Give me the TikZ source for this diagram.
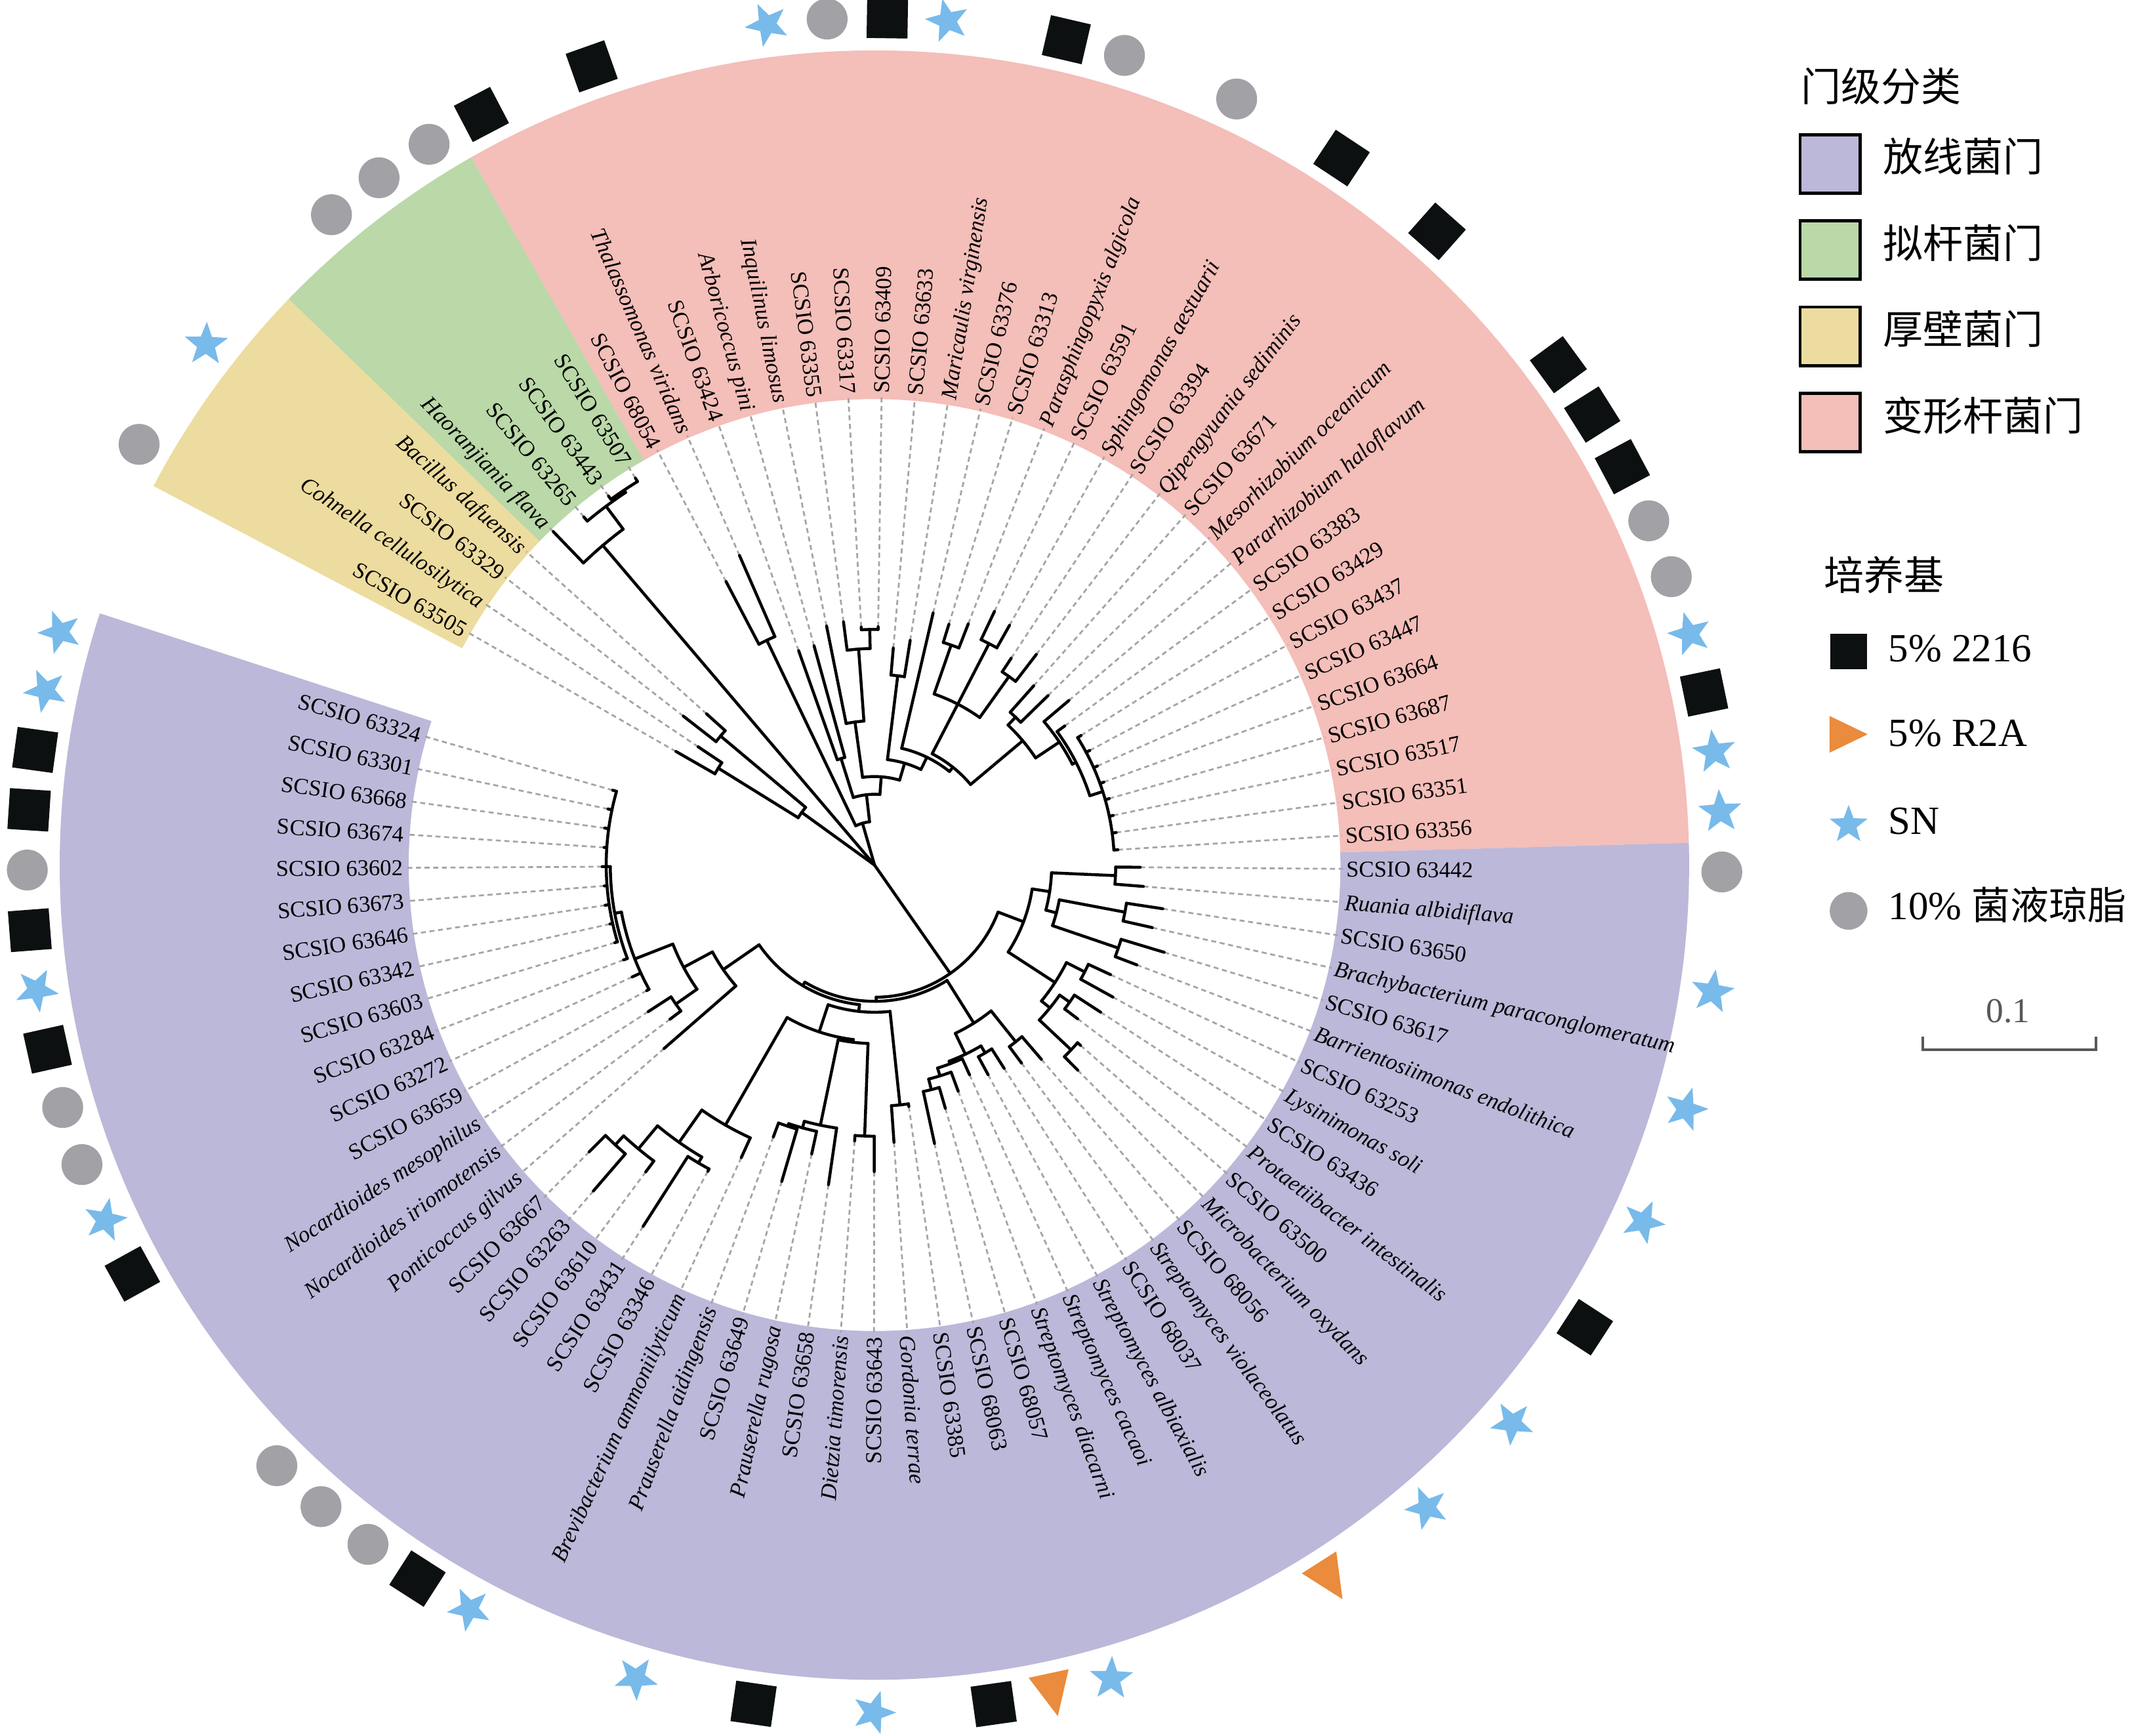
\documentclass[tikz,border=0pt]{standalone}
\usepackage{fontspec}
\setmainfont{Liberation Serif}
\newfontfamily\cjk{Noto Sans CJK SC}
\usetikzlibrary{shapes.geometric}
\definecolor{actino}{HTML}{BCB8D9}
\definecolor{bacter}{HTML}{BAD8A8}
\definecolor{firmi}{HTML}{EDDC9F}
\definecolor{proteo}{HTML}{F4BEB9}
\definecolor{sblue}{HTML}{78BAEA}
\definecolor{tor}{HTML}{EA8B3D}
\definecolor{cgray}{HTML}{A1A1A6}
\definecolor{sqblack}{HTML}{0C1010}
\definecolor{dashgray}{HTML}{A5A5A8}
\definecolor{bargray}{HTML}{58585A}
\tikzset{
  branch/.style={line width=1.3pt, black, line cap=round},
  dashline/.style={line width=0.8pt, dashgray, dash pattern=on 2.2pt off 1.6pt},
  lab/.style={font=\fontsize{10}{12}\selectfont, inner sep=0pt, text height=0.68em, text depth=0pt},
  sqsym/.style={fill=sqblack, minimum size=18pt, inner sep=0pt, draw=none},
  starsym/.style={star, star points=5, star point ratio=2.4, fill=sblue, minimum size=20pt, inner sep=0pt, draw=none},
  legtext/.style={font=\fontsize{17.6}{20}\selectfont, inner sep=0pt, anchor=west, text height=0.7em, text depth=0pt},
}
% tip: name, index, radius, label
\newcommand\Tip[4]{%
  \pgfmathsetmacro\tipa{150.23-4.0728*#2}%
  \expandafter\xdef\csname A@#1\endcsname{\tipa}%
  \expandafter\xdef\csname R@#1\endcsname{#3}%
  \ifdim #3pt<342pt \draw[dashline] (\tipa:#3) -- (\tipa:344);\fi
  \pgfmathtruncatemacro\isleft{(\tipa<-90 || \tipa>90) ? 1 : 0}%
  \ifnum\isleft=1
    \node[lab, rotate=\tipa+180, anchor=east] at (\tipa:346) {#4};%
  \else
    \node[lab, rotate=\tipa, anchor=west] at (\tipa:346) {#4};%
  \fi}
% clade: name, radius, children
\newcommand\Clade[3]{%
  \gdef\cmin{1000}\gdef\cmax{-1000}\gdef\csum{0}\gdef\ccnt{0}%
  \foreach \cc in {#3}{%
    \edef\cang{\csname A@\cc\endcsname}%
    \edef\crad{\csname R@\cc\endcsname}%
    \draw[branch] (\cang:#2) -- (\cang:\crad);
    \pgfmathsetmacro\tv{min(\cmin,\cang)}\xdef\cmin{\tv}%
    \pgfmathsetmacro\tv{max(\cmax,\cang)}\xdef\cmax{\tv}%
    \pgfmathsetmacro\tv{\csum+\cang}\xdef\csum{\tv}%
    \pgfmathsetmacro\tv{\ccnt+1}\xdef\ccnt{\tv}%
  }%
  \pgfmathsetmacro\tv{\csum/\ccnt}%
  \expandafter\xdef\csname A@#1\endcsname{\tv}%
  \expandafter\xdef\csname R@#1\endcsname{#2}%
  \draw[branch] (\cmin:#2) arc[start angle=\cmin, end angle=\cmax, radius=#2*0.6pt];
}
\newcommand\Sector[3]{%
  \fill[#1] (#2:342) arc[start angle=#2, end angle=#3, radius=342*0.6pt] -- (#3:598)
    arc[start angle=#3, end angle=#2, radius=598*0.6pt] -- cycle;}
\newcommand\SymSq[1]{\pgfmathsetmacro\sa{150.23-4.0728*#1}\node[sqsym, rotate=\sa] at (\sa:622) {};}
\newcommand\SymCi[1]{\pgfmathsetmacro\sa{150.23-4.0728*#1}\fill[cgray] (\sa:622) circle[radius=9pt];}
\newcommand\SymSt[1]{\pgfmathsetmacro\sa{150.23-4.0728*#1}\node[starsym, rotate=\sa] at (\sa:622) {};}
\newcommand\SymTr[1]{\pgfmathsetmacro\sa{150.23-4.0728*#1}\fill[tor, shift={(\sa:622)}, rotate=\sa] (17,0) -- (-15,15) -- (-15,-15) -- cycle;}

\begin{document}
\begin{tikzpicture}[x=0.6pt,y=0.6pt]
\useasboundingbox (0,0) rectangle (1568,1274);
\fill[white] (0,0) rectangle (1568,1274);
\begin{scope}[shift={(642,639)}]
% sectors
\Sector{firmi}{152.27}{135.98}
\Sector{bacter}{135.98}{119.68}
\Sector{proteo}{119.68}{1.57}
\Sector{actino}{1.57}{-198.0}
% Firmicutes
\Tip{t0}{0}{168}{SCSIO 63505}
\Tip{t1}{1}{156}{\textit{Cohnella cellulosilytica}}
\Tip{t2}{2}{178}{SCSIO 63329}
\Tip{t3}{3}{166}{\textit{Bacillus dafuensis}}
\Clade{F2}{135}{t0,t1}
\Clade{F1}{147.5}{t2,t3}
\Clade{F0}{66}{F1,F2}
% Bacteroidetes
\Tip{t4}{4}{340}{\textit{Haoranjiania flava}}
\Tip{t5}{5}{333}{SCSIO 63265}
\Tip{t6}{6}{334}{SCSIO 63443}
\Tip{t7}{7}{334}{SCSIO 63507}
\Clade{B2}{331}{t6,t7}
\Clade{B1}{329}{t5,B2}
\Clade{B0}{308}{t4,B1}
% Proteobacteria
\Tip{t8}{8}{235}{SCSIO 68054}
\Tip{t9}{9}{248}{\textit{Thalassomonas viridans}}
\Tip{t10}{10}{167}{SCSIO 63424}
\Tip{t11}{11}{167}{\textit{Arboricoccus pini}}
\Tip{t12}{12}{179}{\textit{Inquilinus limosus}}
\Tip{t13}{13}{180}{SCSIO 63355}
\Tip{t14}{14}{175}{SCSIO 63317}
\Tip{t15}{15}{175}{SCSIO 63409}
\Tip{t16}{16}{160}{SCSIO 63633}
\Tip{t17}{17}{167}{\textit{Maricaulis virginensis}}
\Tip{t18}{18}{190}{SCSIO 63376}
\Tip{t19}{19}{185}{SCSIO 63313}
\Tip{t20}{20}{190}{\textit{Parasphingopyxis algicola}}
\Tip{t21}{21}{206}{SCSIO 63591}
\Tip{t22}{22}{202}{\textit{Sphingomonas aestuarii}}
\Tip{t23}{23}{182}{SCSIO 63394}
\Tip{t24}{24}{195}{\textit{Qipengyuania sediminis}}
\Tip{t25}{25}{176}{SCSIO 63671}
\Tip{t26}{26}{178}{\textit{Mesorhizobium oceanicum}}
\Tip{t27}{27}{187}{\textit{Pararhizobium haloflavum}}
\Tip{t28}{28}{173}{SCSIO 63383}
\Tip{t29}{29}{179}{SCSIO 63429}
\Tip{t30}{30}{179}{SCSIO 63437}
\Tip{t31}{31}{179}{SCSIO 63447}
\Tip{t32}{32}{179}{SCSIO 63664}
\Tip{t33}{33}{179}{SCSIO 63687}
\Tip{t34}{34}{179}{SCSIO 63517}
\Tip{t35}{35}{179}{SCSIO 63351}
\Tip{t36}{36}{179}{SCSIO 63356}
\Clade{P1}{183}{t8,t9}
\Clade{Q1}{82}{t10,t11}
\Clade{Q2}{173}{t14,t15}
\Clade{Q3}{159}{t13,Q2}
\Clade{Q4}{106}{t12,Q3}
\Clade{Q5}{140}{t16,t17}
\Clade{Q6}{171}{t19,t20}
\Clade{Q7}{183}{t21,t22}
\Clade{Q8}{170}{t23,t24}
\Clade{Q9}{133}{Q6,Q7,Q8}
\Clade{Q10}{150}{t25,t26}
\Clade{Q11}{176}{t29,t30,t31,t32,t33,t34,t35,t36}
\Clade{Q12}{166}{t28,Q11}
\Clade{Q13}{163}{t27,Q12}
\Clade{Q14}{142}{Q10,Q13}
\Clade{Q15}{92}{Q9,Q14}
\Clade{Q17}{88}{t18,Q15}
\Clade{Q18}{78}{Q5,Q17}
\Clade{P5}{65}{Q4,Q18}
\Clade{P4}{52}{Q1,P5}
\Clade{P2}{32}{P1,P4}
% Actinobacteria
\Tip{t37}{37}{195}{SCSIO 63442}
\Tip{t38}{38}{198}{\textit{Ruania albidiflava}}
\Tip{t39}{39}{214}{SCSIO 63650}
\Tip{t40}{40}{209}{\textit{Brachybacterium paraconglomeratum}}
\Tip{t41}{41}{222}{SCSIO 63617}
\Tip{t42}{42}{206}{\textit{Barrientosiimonas endolithica}}
\Tip{t43}{43}{191}{SCSIO 63253}
\Tip{t44}{44}{200}{\textit{Lysinimonas soli}}
\Tip{t45}{45}{198}{SCSIO 63436}
\Tip{t46}{46}{187}{\textit{Protaetiibacter intestinalis}}
\Tip{t47}{47}{201}{SCSIO 63500}
\Tip{t48}{48}{212}{\textit{Microbacterium oxydans}}
\Tip{t49}{49}{188}{SCSIO 68056}
\Tip{t50}{50}{181}{\textit{Streptomyces violaceolatus}}
\Tip{t51}{51}{177}{SCSIO 68037}
\Tip{t52}{52}{175}{\textit{Streptomyces albiaxialis}}
\Tip{t53}{53}{169}{\textit{Streptomyces cacaoi}}
\Tip{t54}{54}{177}{\textit{Streptomyces diacarni}}
\Tip{t55}{55}{186}{SCSIO 68057}
\Tip{t56}{56}{209}{SCSIO 68063}
\Tip{t57}{57}{179}{SCSIO 63385}
\Tip{t58}{58}{204}{\textit{Gordonia terrae}}
\Tip{t59}{59}{225}{SCSIO 63643}
\Tip{t60}{60}{203}{\textit{Dietzia timorensis}}
\Tip{t61}{61}{237}{SCSIO 63658}
\Tip{t62}{62}{217}{\textit{Prauserella rugosa}}
\Tip{t63}{63}{242}{SCSIO 63649}
\Tip{t64}{64}{213}{\textit{Prauserella aidingensis}}
\Tip{t65}{65}{236}{\textit{Brevibacterium ammoniilyticum}}
\Tip{t66}{66}{256}{SCSIO 63346}
\Tip{t67}{67}{315}{SCSIO 63431}
\Tip{t68}{68}{281}{SCSIO 63610}
\Tip{t69}{69}{316}{SCSIO 63263}
\Tip{t70}{70}{297}{SCSIO 63667}
\Tip{t71}{71}{205}{\textit{Ponticoccus gilvus}}
\Tip{t72}{72}{188}{\textit{Nocardioides iriomotensis}}
\Tip{t73}{73}{198}{\textit{Nocardioides mesophilus}}
\Tip{t74}{74}{191}{SCSIO 63659}
\Tip{t75}{75}{196}{SCSIO 63272}
\Tip{t76}{76}{197}{SCSIO 63284}
\Tip{t77}{77}{199}{SCSIO 63603}
\Tip{t78}{78}{199}{SCSIO 63342}
\Tip{t79}{79}{200}{SCSIO 63646}
\Tip{t80}{80}{199}{SCSIO 63673}
\Tip{t81}{81}{200}{SCSIO 63602}
\Tip{t82}{82}{199}{SCSIO 63674}
\Tip{t83}{83}{200}{SCSIO 63668}
\Tip{t84}{84}{200}{SCSIO 63301}
\Tip{t85}{85}{200}{SCSIO 63324}
\Clade{R1}{177}{t37,t38}
\Clade{R2}{187}{t39,t40}
\Clade{R3}{189}{t41,t42}
\Clade{R4}{138}{R2,R3}
\Clade{R5}{130}{R1,R4}
\Clade{R6}{173}{t43,t44}
\Clade{R7}{175}{t45,t46}
\Clade{R8}{198}{t47,t48}
\Clade{R9}{166}{R7,R8}
\Clade{R10}{158}{R6,R9}
\Clade{R11}{117}{R5,R10}
\Clade{S1}{166}{t49,t50}
\Clade{S2}{160}{t51,t52}
\Clade{S3}{170}{t55,t56}
\Clade{S4}{162}{t54,S3}
\Clade{S5}{156}{t53,S4}
\Clade{S6}{154}{S2,S5}
\Clade{S7}{137}{S1,S6}
\Clade{G1}{177}{t57,t58}
\Clade{G2}{199}{t59,t60}
\Clade{G3}{202}{t63,t64}
\Clade{G4}{200}{t62,G3}
\Clade{G5}{195}{t61,G4}
\Clade{G6}{131}{G2,G5}
\Clade{G7}{254}{t66,t67}
\Clade{G8}{280}{t69,t70}
\Clade{G9}{271}{t68,G8}
\Clade{G10}{249}{G7,G9}
\Clade{G11}{220}{t65,G10}
\Clade{G12}{129}{G6,G11}
\Clade{G13}{108}{G1,G12}
\Clade{N1}{178}{t72,t73}
\Clade{L3}{197}{t77,t78,t79,t80,t81,t82,t83,t84,t85}
\Clade{L2}{194}{t76,L3}
\Clade{L1}{189}{t74,t75,L2}
\Clade{N2}{159}{N1,L1}
\Clade{N3}{135}{t71,N2}
\Clade{Al1}{103}{G13,N3}
\Clade{Al2}{100}{Al1,S7}
\Clade{Aroot}{97}{Al2,R11}
% root stems
\foreach \cc in {F0,B0,P2,Aroot}{%
  \edef\cang{\csname A@\cc\endcsname}\edef\crad{\csname R@\cc\endcsname}%
  \draw[branch] (0,0) -- (\cang:\crad);}
% outer symbols
\foreach \m in {0,5,6,7,14,19,21,31,32,37,68,69,70,76,77,81}{\SymCi{\m}}
\foreach \m in {2,13,16,33,35,36,39,41,43,47,49,55,59,63,66,75,79,84,85}{\SymSt{\m}}
\foreach \m in {8,10,15,18,23,25,28,29,30,34,45,57,61,67,74,78,80,82,83}{\SymSq{\m}}
\foreach \m in {51,56}{\SymTr{\m}}
\end{scope}
% legend
\node[legtext, font=\cjk\fontsize{17.6}{20}\selectfont] (lt1) at (1322,1205.3) {门级分类};
\foreach \c/\t [count=\i from 0] in {actino/放线菌门, bacter/拟杆菌门, firmi/厚壁菌门, proteo/变形杆菌门}{
  \pgfmathsetmacro\yb{1274-141.8-63.3*\i}
  \pgfmathsetmacro\yt{1274-98.8-63.3*\i}
  \pgfmathsetmacro\ym{1274-120.3-63.3*\i}
  \draw[line width=1.4pt, fill=\c] (1321.4,\yb) rectangle (1365.4,\yt);
  \node[legtext, font=\cjk\fontsize{17.6}{20}\selectfont] at (1382,\ym) {\t};
}
\node[legtext, font=\cjk\fontsize{17.6}{20}\selectfont] (lt2) at (1338.7,846.7) {培养基};
\node[fill=sqblack, minimum width=16.2pt, minimum height=15.6pt, inner sep=0pt] (ls1) at (1357,796) {};
\fill[tor, shift={(1357,735)}] (14,0) -- (-14,13.5) -- (-14,-13.5) -- cycle;
\node[starsym, minimum size=17.6pt] (ls3) at (1357,668.5) {};
\fill[cgray] (1357,605.4) circle[radius=8.3pt];
\node[legtext] (lx1) at (1386,794) {5\% 2216};
\node[legtext] (lx2) at (1386,732) {5\% R2A};
\node[legtext] (lx3) at (1386,667.3) {SN};
\node[legtext] (lx4) at (1386,605) {10\%\hspace{0.25em}{\cjk\fontsize{17}{20}\selectfont 菌液琼脂}};
\node[font=\fontsize{15.4}{18}\selectfont, text=bargray, inner sep=0pt] (sc) at (1474,532) {0.1};
\draw[bargray, line width=1.2pt] (1411.5,513) -- (1411.5,503.5) -- (1538.4,503.5) -- (1538.4,513);
\end{tikzpicture}
\end{document}
